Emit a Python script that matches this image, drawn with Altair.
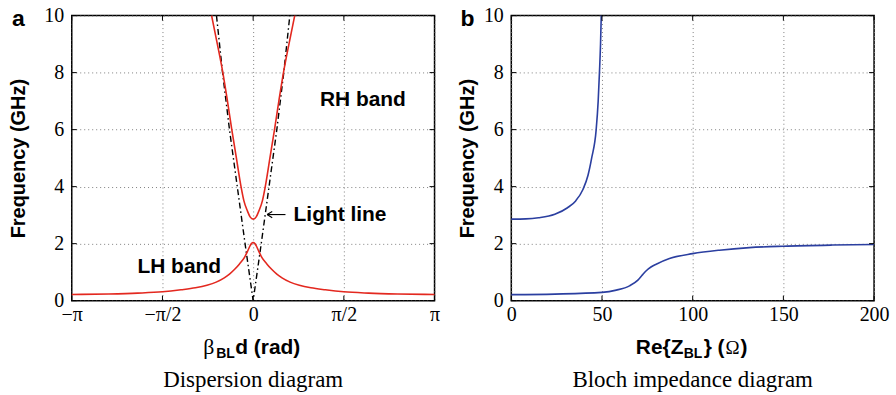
import altair as alt
import numpy as np
import pandas as pd

PI = float(np.pi)

# ---------------- values ----------------
# (a) Dispersion diagram: beta_BL*d (rad) vs frequency (GHz); half branches, beta >= 0
lh_beta = [0.0, 0.03, 0.06, 0.10, 0.15, 0.24, 0.32, 0.41, 0.50, 0.64, 0.80, 1.00, 1.25, 1.57, 2.00, 2.50, PI]
lh_freq = [2.04, 2.00, 1.90, 1.72, 1.52, 1.28, 1.10, 0.93, 0.80, 0.65, 0.54, 0.45, 0.38, 0.31, 0.265, 0.235, 0.215]
rh_beta = [0.0, 0.05, 0.10, 0.16, 0.21, 0.29, 0.37, 0.445, 0.525, 0.62, 0.72]
rh_freq = [2.86, 2.93, 3.15, 3.50, 4.00, 5.00, 6.00, 7.00, 8.00, 9.00, 10.0]
light_beta = [0.0, 0.14, 0.275, 0.41, 0.53, 0.635]
light_freq = [0.0, 2.0, 4.0, 6.0, 8.0, 10.0]

# (b) Bloch impedance diagram: Re{Z_BL} (ohm) vs frequency (GHz)
up_z = [0, 8, 15, 24, 31, 35.5, 39.5, 42.3, 44.3, 46.8, 47.9, 48.6, 49.2, 49.6]
up_f = [2.86, 2.87, 2.91, 3.03, 3.26, 3.50, 3.90, 4.40, 5.00, 6.00, 7.00, 8.00, 9.00, 10.0]
low_z = [0, 24, 50, 57.9, 65.2, 69.8, 72.0, 74.4, 77.0, 79.9, 87.2, 100, 114.7, 131.2, 150, 177, 200]
low_f = [0.21, 0.23, 0.29, 0.37, 0.52, 0.72, 0.88, 1.05, 1.18, 1.28, 1.48, 1.65, 1.77, 1.86, 1.91, 1.95, 1.97]

# axis ticks / labels
a_xticks = [-PI, -PI / 2, 0.0, PI / 2, PI]
a_xlabels = ["−π", "−π/2", "0", "π/2", "π"]
b_xticks = [0, 50, 100, 150, 200]
freq_ticks = [0, 2, 4, 6, 8, 10]

# ---------------- styling ----------------
W, H = 364, 286
RED = "#e3281f"
BLUE = "#2b3fa0"
SANS = "Liberation Sans"
SERIF = "Liberation Serif"


def mirror(b, f):
    xs = [-v for v in b[::-1]] + list(b[1:])
    ys = list(f[::-1]) + list(f[1:])
    return xs, ys


def label_expr(values, labels):
    parts = []
    for i in range(len(values) - 1):
        mid = (values[i] + values[i + 1]) / 2
        parts.append(f"datum.value < {mid} ? '{labels[i]}' : ")
    return "".join(parts) + f"'{labels[-1]}'"


common_axis = dict(
    grid=True, gridDash=[1, 3], gridColor="#808080", gridWidth=1,
    domain=False, ticks=False, labelFont=SERIF, labelFontSize=20,
    labelColor="black", labelFlush=False, labelOverlap=False,
)


def y_axis(title_x):
    return alt.Axis(
        values=freq_ticks, title="Frequency (GHz)", titleX=title_x, titleY=H / 2,
        titleAngle=270, titleAlign="center", titleBaseline="middle",
        titleFont=SANS, titleFontSize=20, titleFontWeight="bold", titleColor="black",
        labelPadding=8, **common_axis,
    )


ax_a_x = alt.Axis(values=a_xticks, labelExpr=label_expr(a_xticks, a_xlabels),
                  title=None, labelPadding=4, **common_axis)
ax_b_x = alt.Axis(values=b_xticks, title=None, labelPadding=4, **common_axis)
ax_a_y = y_axis(-53)
ax_b_y = y_axis(-44)


def txt(s, x, y, size, font=SANS, weight="bold", align="left", baseline="alphabetic"):
    return alt.Chart(pd.DataFrame({"t": [s]})).mark_text(
        align=align, baseline=baseline, font=font, fontSize=size,
        fontWeight=weight, color="black",
    ).encode(x=alt.value(x), y=alt.value(y), text="t:N")


def inside_ticks(xvals, yvals, xs, ys, axx, axy):
    L = 5
    bx = alt.Chart(pd.DataFrame({"v": xvals})).mark_rule(color="black", strokeWidth=1)
    by = alt.Chart(pd.DataFrame({"v": yvals})).mark_rule(color="black", strokeWidth=1)
    return [
        bx.encode(x=alt.X("v:Q", scale=xs, axis=axx), y=alt.value(H), y2=alt.value(H - L)),
        bx.encode(x=alt.X("v:Q", scale=xs, axis=axx), y=alt.value(0), y2=alt.value(L)),
        by.encode(y=alt.Y("v:Q", scale=ys, axis=axy), x=alt.value(0), x2=alt.value(L)),
        by.encode(y=alt.Y("v:Q", scale=ys, axis=axy), x=alt.value(W), x2=alt.value(W - L)),
    ]


def dtxt(s, x, y, xs, axx, axy, size=21, align="center", baseline="middle"):
    return alt.Chart(pd.DataFrame({"t": [s], "x": [x], "y": [y]})).mark_text(
        align=align, baseline=baseline, font=SANS, fontSize=size,
        fontWeight="bold", color="black",
    ).encode(
        x=alt.X("x:Q", scale=xs, axis=axx),
        y=alt.Y("y:Q", scale=ys, axis=axy),
        text="t:N",
    )


# ---------------- panel (a) ----------------
xs_a = alt.Scale(domain=[-PI, PI], nice=False, zero=False)
ys = alt.Scale(domain=[0, 10], nice=False, zero=True)

lhx, lhy = mirror(lh_beta, lh_freq)
rhx, rhy = mirror(rh_beta, rh_freq)
lgx, lgy = mirror(light_beta, light_freq)

bands = pd.concat([
    pd.DataFrame({"beta": lhx, "freq": lhy, "band": "LH"}),
    pd.DataFrame({"beta": rhx, "freq": rhy, "band": "RH"}),
])
light = pd.DataFrame({"beta": lgx, "freq": lgy})

a_light = alt.Chart(light).mark_line(
    color="black", strokeWidth=1.4, strokeDash=[6, 3, 1.5, 3]
).encode(
    x=alt.X("beta:Q", scale=xs_a, axis=ax_a_x),
    y=alt.Y("freq:Q", scale=ys, axis=ax_a_y),
)

a_bands = alt.Chart(bands).mark_line(
    color=RED, strokeWidth=1.6, interpolate="monotone"
).encode(
    x=alt.X("beta:Q", scale=xs_a, axis=ax_a_x),
    y=alt.Y("freq:Q", scale=ys, axis=ax_a_y),
    detail="band:N",
)

arrow = pd.DataFrame({
    "x": [0.242, 0.242, 0.242],
    "y": [3.02, 3.02, 3.02],
    "x2": [0.56, 0.33, 0.33],
    "y2": [3.02, 3.13, 2.91],
})
a_arrow = alt.Chart(arrow).mark_rule(color="black", strokeWidth=1.1).encode(
    x=alt.X("x:Q", scale=xs_a, axis=ax_a_x), y=alt.Y("y:Q", scale=ys, axis=ax_a_y),
    x2="x2:Q", y2="y2:Q",
)

panel_a = alt.layer(
    a_light, a_bands, a_arrow,
    dtxt("RH band", 1.90, 7.03, xs_a, ax_a_x, ax_a_y),
    dtxt("LH band", -1.28, 1.19, xs_a, ax_a_x, ax_a_y),
    dtxt("Light line", 0.70, 3.02, xs_a, ax_a_x, ax_a_y, align="left"),
    *inside_ticks(a_xticks, freq_ticks, xs_a, ys, ax_a_x, ax_a_y),
    txt("a", -60, 10, 23),
    txt("β", 132, 340, 22, font=SERIF, weight="normal"),
    txt("BL", 145, 344, 14),
    txt("d (rad)", 164, 340, 21),
    txt("Dispersion diagram", 182, 373, 23, font=SERIF, weight="normal", align="center"),
).properties(width=W, height=H)

# ---------------- panel (b) ----------------
xs_b = alt.Scale(domain=[0, 200], nice=False, zero=False)

bloch = pd.concat([
    pd.DataFrame({"z": up_z, "freq": up_f, "branch": "upper"}),
    pd.DataFrame({"z": low_z, "freq": low_f, "branch": "lower"}),
])

b_lines = alt.Chart(bloch).mark_line(
    color=BLUE, strokeWidth=1.6, interpolate="monotone"
).encode(
    x=alt.X("z:Q", scale=xs_b, axis=ax_b_x),
    y=alt.Y("freq:Q", scale=ys, axis=ax_b_y),
    detail="branch:N",
)

panel_b = alt.layer(
    b_lines,
    *inside_ticks(b_xticks, freq_ticks, xs_b, ys, ax_b_x, ax_b_y),
    txt("b", -51, 10, 23),
    txt("Re{Z", 125, 340, 21),
    txt("BL", 173, 344, 14),
    txt("} (", 193, 340, 21),
    txt("Ω", 215, 340, 19, font=SERIF, weight="normal"),
    txt(")", 230, 340, 21),
    txt("Bloch impedance diagram", 182, 373, 23, font=SERIF, weight="normal", align="center"),
).properties(width=W, height=H)

chart = alt.hconcat(panel_a, panel_b, spacing=77, bounds="flush").properties(
    padding={"left": 8, "top": 4, "right": 6, "bottom": 2},
).configure_view(stroke="black", strokeWidth=1.5)

chart.save("out.html", embed_options={"renderer": "svg", "actions": False})
